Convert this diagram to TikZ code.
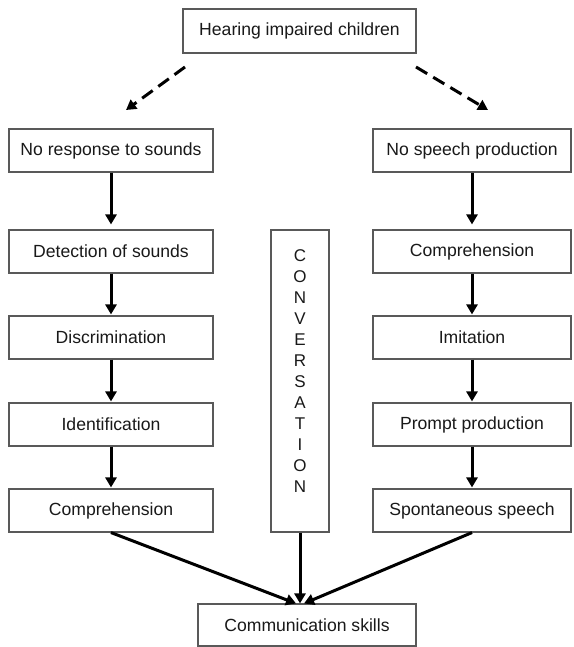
\documentclass[tikz,border=0pt]{standalone}
\usepackage{fontspec}
\setmainfont{Liberation Sans}
\usetikzlibrary{arrows.meta}
\begin{document}
\begin{tikzpicture}[x=1pt,y=-1pt,
  box/.style={draw=black!65, line width=1.1pt, fill=white, inner sep=0pt,
    font=\fontsize{17.6}{21}\selectfont, text=black!90},
  lbox/.style={box, minimum width=204pt, minimum height=43pt},
  rbox/.style={box, minimum width=198pt, minimum height=43pt},
  arr/.style={line width=3pt, -{Triangle[length=10pt,width=11pt]}},
  darr/.style={arr, dash pattern=on 13pt off 7pt}]
\useasboundingbox (0,0) rectangle (573,647);
% top
\node[box, minimum width=233pt, minimum height=44pt] (top) at (299.5,31) {Hearing impaired children};
% left column
\node[lbox] (l1) at (111,150.5) {No response to sounds};
\node[lbox] (l2) at (111,251.5) {Detection of sounds};
\node[lbox] (l3) at (111,337.5) {Discrimination};
\node[lbox] (l4) at (111,424.5) {Identification};
\node[lbox] (l5) at (111,510.5) {Comprehension};
% right column
\node[rbox] (r1) at (472,150.5) {No speech production};
\node[rbox] (r2) at (472,251.5) {Comprehension};
\node[rbox] (r3) at (472,337.5) {Imitation};
\node[rbox] (r4) at (472,424.5) {Prompt production};
\node[rbox] (r5) at (472,510.5) {Spontaneous speech};
% middle
\node[box, minimum width=58pt, minimum height=302pt] (conv) at (300,381) {};
\node[inner sep=0pt, align=center, font=\fontsize{17}{21}\selectfont, text=black!90] (convtxt) at (300,371.5)
  {C\\O\\N\\V\\E\\R\\S\\A\\T\\I\\O\\N};
% bottom
\node[box, minimum width=218pt, minimum height=42pt] (bot) at (307,625) {Communication skills};
% dashed arrows
\coordinate (dls) at (185,67);
\coordinate (dle) at (126,110);
\coordinate (drs) at (416,67);
\coordinate (dre) at (488,110);
\draw[darr] (dls) -- (dle);
\draw[darr] (drs) -- (dre);
% vertical arrows
\draw[arr, shorten >=5pt] (l1) -- (l2);
\draw[arr, shorten >=1pt] (l2) -- (l3);
\draw[arr, shorten >=1pt] (l3) -- (l4);
\draw[arr, shorten >=1pt] (l4) -- (l5);
\draw[arr, shorten >=5pt] (r1) -- (r2);
\draw[arr, shorten >=1pt] (r2) -- (r3);
\draw[arr, shorten >=1pt] (r3) -- (r4);
\draw[arr, shorten >=1pt] (r4) -- (r5);
% converging arrows
\coordinate (meet) at (conv.south |- bot.north);
\draw[arr] (l5.south) -- ([xshift=-4pt]meet);
\draw[arr] (conv.south) -- (meet);
\draw[arr] (r5.south) -- ([xshift=4pt]meet);
\end{tikzpicture}
\end{document}
